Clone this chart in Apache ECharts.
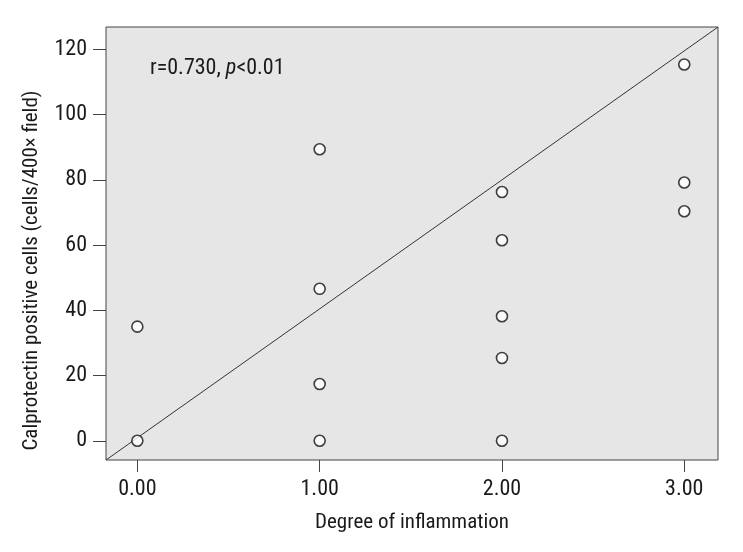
<!DOCTYPE html>
<html>
<head>
<meta charset="utf-8">
<script src="https://cdn.jsdelivr.net/npm/echarts@6/dist/echarts.min.js"></script>
<style>
  html, body { margin: 0; padding: 0; background: #fff; }
  #chart { width: 743px; height: 552px; }
</style>
</head>
<body>
<div id="chart"></div>
<script>
// degree of inflammation vs calprotectin positive cells
const degree = [0, 0, 1, 1, 1, 1, 2, 2, 2, 2, 2, 3, 3, 3]
const cells = [35, 0, 89.4, 46.6, 17.4, 0, 76.3, 61.5, 38.2, 25.4, 0, 115.4, 79.2, 70.4]
const yTicks = [0, 20, 40, 60, 80, 100, 120]
const xTicks = [0, 1, 2, 3]
// reference line, runs corner to corner of the plot box
const fitX = [-0.172, 3.185]
const fitY = [-5.9, 126.9]

const font = "'Liberation Sans Narrow', 'Roboto Condensed', 'DejaVu Sans Condensed', sans-serif"

const chart = echarts.init(document.getElementById('chart'))
chart.setOption({
  animation: false,
  grid: {
    left: 106, right: 25, top: 27, bottom: 92,
    show: true,
    backgroundColor: '#e6e6e6',
    borderColor: '#444',
    borderWidth: 1
  },
  xAxis: {
    type: 'value',
    min: fitX[0],
    max: fitX[1],
    name: 'Degree of inflammation',
    nameLocation: 'middle',
    nameGap: 52,
    nameTextStyle: { fontFamily: font, fontSize: 21, color: '#1a1a1a' },
    axisLine: { show: false, onZero: false },
    axisTick: { show: true, length: 12, lineStyle: { color: '#444' }, customValues: xTicks },
    axisLabel: {
      customValues: xTicks,
      formatter: v => v.toFixed(2),
      fontFamily: font, fontSize: 22, color: '#1a1a1a', margin: 18
    },
    splitLine: { show: false }
  },
  yAxis: {
    type: 'value',
    min: fitY[0],
    max: fitY[1],
    name: 'Calprotectin positive cells (cells/400× field)',
    nameLocation: 'middle',
    nameGap: 64,
    nameTextStyle: { fontFamily: font, fontSize: 21, color: '#1a1a1a', padding: [0, 54, 0, 0] },
    axisLine: { show: false, onZero: false },
    axisTick: { show: true, length: 13, lineStyle: { color: '#444' }, customValues: yTicks },
    axisLabel: {
      customValues: yTicks,
      fontFamily: font, fontSize: 22, color: '#1a1a1a', margin: 19
    },
    splitLine: { show: false }
  },
  graphic: [{
    type: 'text',
    left: 150,
    top: 57,
    style: {
      text: '{a|r=0.730, }{b|p}{a|<0.01}',
      rich: {
        a: { fontFamily: font, fontSize: 22, fill: '#1a1a1a' },
        b: { fontFamily: font, fontSize: 22, fontStyle: 'italic', fill: '#1a1a1a' }
      }
    }
  }],
  series: [
    {
      type: 'line',
      data: fitX.map((x, i) => [x, fitY[i]]),
      symbol: 'none',
      lineStyle: { color: '#333', width: 1 },
      silent: true,
      z: 1
    },
    {
      type: 'scatter',
      data: degree.map((d, i) => [d, cells[i]]),
      symbol: 'circle',
      symbolSize: 11,
      itemStyle: { color: '#fff', borderColor: '#111', borderWidth: 1.6 },
      z: 2
    }
  ]
})
</script>
</body>
</html>
